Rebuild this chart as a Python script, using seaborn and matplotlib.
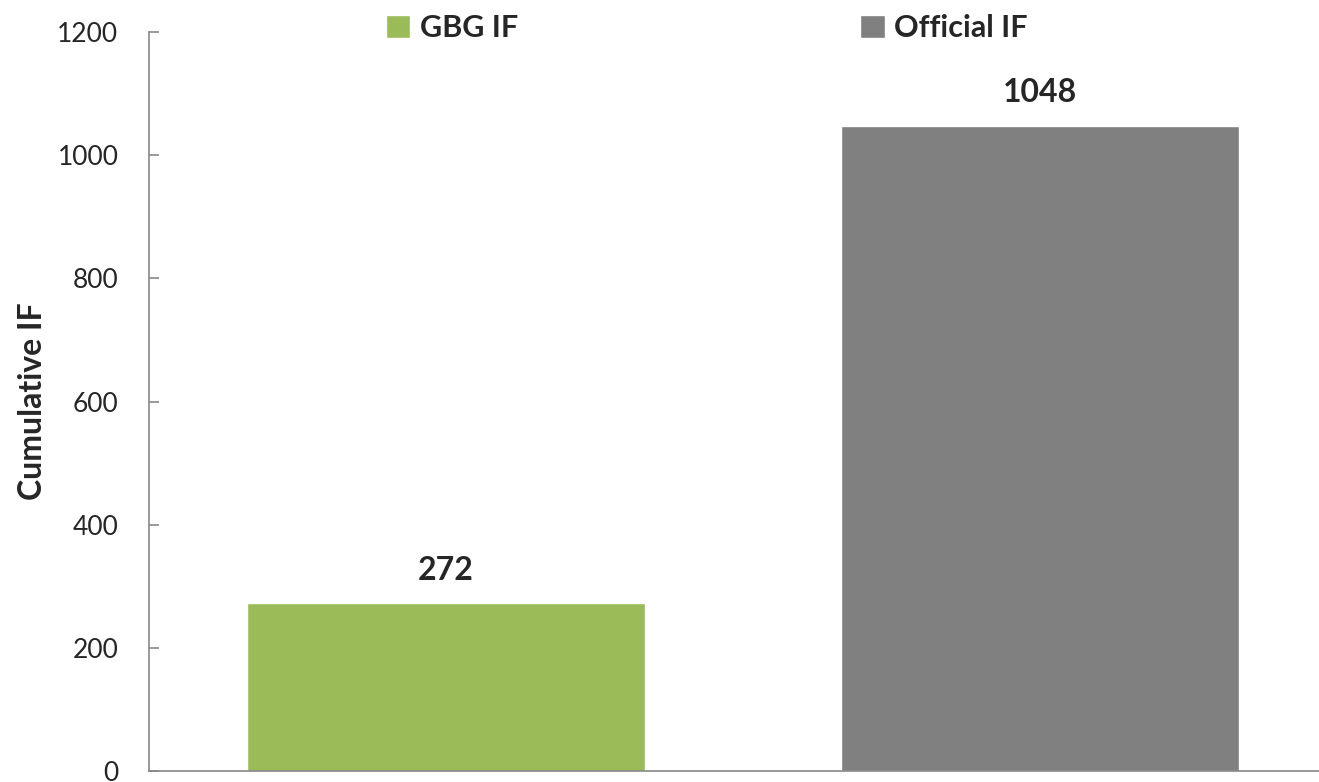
import matplotlib
matplotlib.use("Agg")
import matplotlib.pyplot as plt
import pandas as pd
import seaborn as sns

# data
categories = ["GBG IF", "Official IF"]
values = [272, 1048]
bar_colors = ["#9BBB59", "#808080"]
y_ticks = [0, 200, 400, 600, 800, 1000, 1200]

df = pd.DataFrame({"Series": categories, "Cumulative IF": values})

sns.set_style("white")
plt.rcParams["font.family"] = ["Lato", "DejaVu Sans"]

fig = plt.figure(figsize=(13.19, 7.82), dpi=100)
ax = fig.add_axes([149 / 1319, 11 / 782, (1337 - 149) / 1319, (771 - 32) / 782])

sns.barplot(data=df, x="Series", y="Cumulative IF", hue="Series",
            palette=bar_colors, width=0.67, saturation=1, legend=True, ax=ax)

ax.set_xlim(-0.5, 1.5)
ax.set_ylim(0, 1200)
ax.set_yticks(y_ticks)
ax.set_yticklabels([str(t) for t in y_ticks], fontsize=19)
ax.set_xticks([])
ax.set_xlabel("")
ax.set_ylabel("Cumulative IF", fontsize=23, fontweight="bold")
ax.yaxis.set_label_coords(-0.086, 0.5)

for side in ["top", "right"]:
    ax.spines[side].set_visible(False)
for side in ["left", "bottom"]:
    ax.spines[side].set_color("#888888")
    ax.spines[side].set_linewidth(1.2)
ax.tick_params(axis="y", left=True, direction="in", length=7, width=1.2,
               color="#888888", pad=22)

for i, v in enumerate(values):
    ax.text(i, v + 30, str(v), ha="center", va="bottom", fontsize=23, fontweight="bold")

sns.move_legend(ax, loc="upper left", bbox_to_anchor=(386 / 1319, 1 - 14 / 782),
                bbox_transform=fig.transFigure, ncol=2, frameon=False, title=None,
                handlelength=0.8, handleheight=0.8, handletextpad=0.3,
                columnspacing=11.2, borderaxespad=0, borderpad=0,
                prop={"weight": "bold", "size": 22})

fig.savefig("out.png", dpi=100)
